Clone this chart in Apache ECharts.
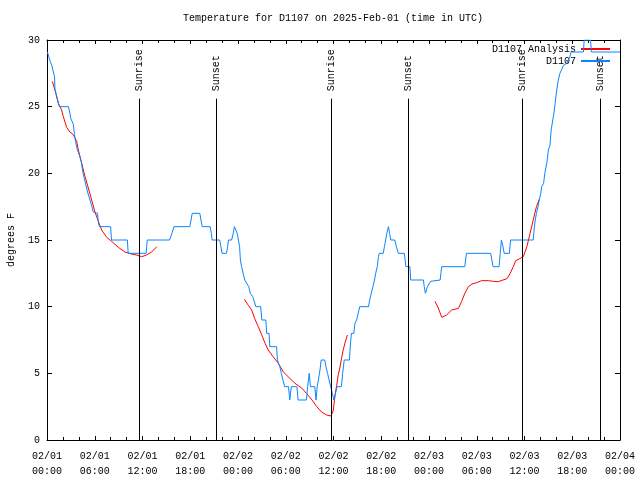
<!DOCTYPE html>
<html>
<head>
<meta charset="utf-8">
<script src="https://cdn.jsdelivr.net/npm/echarts@6/dist/echarts.min.js"></script>
<style>html,body{margin:0;padding:0;background:#fff}#c{width:640px;height:480px}</style>
</head>
<body>
<div id="c"></div>
<script>
// Observations (hours since 2025-02-01 00:00 UTC, degrees F)
const obsHours = [0.05,0.4,0.6,0.8,0.95,1.0,1.2,1.3,1.55,2.7,2.85,3.0,3.3,3.45,3.65,3.8,4.1,4.3,4.5,4.7,4.9,5.1,5.4,5.6,5.8,6.0,6.35,6.45,6.6,8.0,8.1,10.1,10.2,12.45,12.6,15.4,15.7,15.95,17.95,18.1,18.25,19.2,19.35,19.5,20.5,20.65,20.75,21.7,21.85,22.0,22.55,22.7,22.8,23.2,23.4,23.55,23.7,23.9,24.05,24.2,24.3,24.45,24.65,24.85,25.1,25.35,25.55,25.85,26.25,26.85,27.0,27.5,27.6,27.9,28.0,28.85,28.95,29.25,29.45,29.65,29.85,30.35,30.5,30.7,31.4,31.55,32.6,32.75,32.95,33.1,33.65,33.8,33.95,34.1,34.3,34.45,34.9,35.05,35.25,35.45,35.65,35.85,36.05,36.25,36.45,37.0,37.15,37.35,38.0,38.1,38.25,38.55,38.7,38.9,39.1,39.3,40.4,40.55,40.75,40.95,41.15,41.3,41.5,41.65,41.75,42.25,42.4,42.55,42.7,42.9,43.05,43.2,43.7,43.9,44.15,44.9,45.0,45.1,45.6,45.7,47.3,47.4,47.55,47.8,48.2,48.45,49.4,49.5,49.6,52.5,52.6,52.7,55.75,55.9,56.05,56.8,56.95,57.1,57.3,57.45,58.1,58.25,61.1,61.2,61.35,61.5,61.7,61.85,62.05,62.15,62.4,62.55,62.8,63.0,63.2,63.35,63.55,63.7,63.85,64.05,64.25,64.45,64.65,64.9,65.3,65.5,65.7,65.85,67.4,67.5,68.3,68.4,72.0];
const obsTemps = [29.1,28.4,28.1,27.6,27.25,26.3,26.2,25.6,25.0,25.0,24.6,24.1,23.7,22.9,22.2,21.8,21.3,20.9,20.1,19.6,19.1,18.6,18.0,17.6,17.1,17.0,17.0,16.3,16.0,16.0,15.0,15.0,14.0,14.0,15.0,15.0,15.5,16.0,16.0,16.5,17.0,17.0,16.5,16.0,16.0,15.5,15.0,15.0,14.5,14.0,14.0,14.5,15.0,15.0,15.5,16.0,16.0,15.5,15.0,14.5,13.5,13.0,12.5,12.0,11.75,11.5,11.0,10.75,10.0,10.0,9.0,9.0,8.0,8.0,7.0,7.0,6.0,5.5,5.0,4.5,4.0,4.0,3.0,4.0,4.0,3.0,3.0,4.0,5.0,4.0,4.0,3.0,4.0,4.5,5.25,6.0,6.0,5.5,5.0,4.5,4.0,3.5,3.0,3.5,4.0,4.0,5.0,6.0,6.0,7.0,8.0,8.0,8.75,9.0,9.5,10.0,10.0,10.5,11.0,11.5,12.0,12.5,13.0,13.75,14.0,14.0,14.5,15.0,15.5,16.0,15.5,15.0,15.0,14.5,14.0,14.0,13.5,13.0,13.0,12.0,12.0,11.5,11.0,11.5,11.9,12.0,12.0,12.5,13.0,13.0,13.5,14.0,14.0,13.5,13.0,13.0,14.0,15.0,14.5,14.0,14.0,15.0,15.0,15.75,16.5,17.0,17.5,18.0,18.5,19.0,19.25,20.0,20.75,21.75,22.1,23.25,24.0,24.5,25.25,26.25,27.0,27.5,27.75,28.1,28.25,28.5,28.75,29.1,29.1,30.0,30.0,29.1,29.1,29.1];

// Analysis (null = gap)
const anaHours = [0.67,1.0,1.42,1.84,2.05,2.47,2.89,3.3,3.73,3.94,4.36,4.78,5.19,5.61,6.03,6.45,6.87,7.5,8.12,8.96,9.8,10.6,11.27,11.9,12.5,13.15,13.8,
  14.0,
  24.8,25.3,25.72,26.1,26.55,26.97,27.4,27.8,28.4,29.07,29.7,30.3,31.16,32.0,32.6,33.3,33.9,34.5,35.15,35.7,35.98,36.2,36.4,36.6,36.8,37.0,37.2,37.45,37.74,
  38.0,
  48.75,49.17,49.6,49.8,50.2,50.85,51.7,51.9,52.1,52.5,52.95,53.4,54.0,54.6,55.45,56.1,56.7,57.3,57.8,58.2,58.6,58.9,59.4,59.85,60.3,60.7,61.1,61.5,61.86];
const anaTemps = [26.9,26.25,25.25,24.75,24.25,23.45,23.1,22.9,22.4,21.75,20.75,19.75,18.9,18.0,17.1,16.4,15.75,15.2,14.9,14.45,14.1,13.95,13.87,13.75,13.87,14.1,14.5,
  null,
  10.55,10.1,9.75,9.1,8.5,7.9,7.25,6.75,6.25,5.75,5.1,4.75,4.25,3.9,3.5,3.0,2.5,2.1,1.87,1.8,2.25,3.4,4.1,4.9,5.4,6.1,6.7,7.3,7.87,
  null,
  10.4,9.9,9.2,9.1,9.37,9.75,9.87,10.0,10.4,11.0,11.5,11.7,11.8,11.95,11.95,11.9,11.87,12.0,12.1,12.5,13.0,13.45,13.6,13.75,14.5,15.5,16.5,17.5,18.05];

// Sun events
const eventHours = [11.6, 21.27, 35.7, 45.38, 59.75, 69.49];
const eventNames = ['Sunrise','Sunset','Sunrise','Sunset','Sunrise','Sunset'];
const eventLineTop = 25.6;
const eventLabelBase = 26.15;

const xTickDays = ['02/01','02/02','02/03','02/04'];

const FONT = 'Liberation Mono';
const chart = echarts.init(document.getElementById('c'), null, {renderer:'canvas'});

const obsData = obsHours.map((h,i)=>[h, obsTemps[i]]);
const anaData = anaHours.map((h,i)=>[h, anaTemps[i] === null ? '-' : anaTemps[i]]);

function xLabel(v){
  const d = Math.floor(v/24 + 1e-6);
  const hr = Math.round(v - d*24);
  return xTickDays[d] + '\n' + String(hr).padStart(2,'0') + ':00';
}

const axisCommonX = {
  type:'value', min:0, max:72, interval:6,
  axisLine:{show:true, onZero:false, lineStyle:{color:'#000', width:1}},
  axisTick:{show:true, inside:true, length:4, lineStyle:{color:'#000'}},
  minorTick:{show:true, splitNumber:3, length:3, lineStyle:{color:'#000'}},
  splitLine:{show:false}
};
const axisCommonY = {
  type:'value', min:0, max:30, interval:5,
  axisLine:{show:true, onZero:false, lineStyle:{color:'#000', width:1}},
  axisTick:{show:true, inside:true, length:5, lineStyle:{color:'#000'}},
  splitLine:{show:false}
};

chart.setOption({
  animation:false,
  backgroundColor:'#fff',
  title:{
    text:'Temperature for D1107 on 2025-Feb-01 (time in UTC)',
    left:333, top:13, textAlign:'center', padding:[0,0,0,0],
    textStyle:{fontFamily:FONT, fontSize:10, fontWeight:'normal', color:'#000'}
  },
  legend:{
    orient:'vertical', right:30, top:44, align:'right', padding:0,
    itemWidth:29, itemHeight:2, itemGap:2,
    textStyle:{fontFamily:FONT, fontSize:10, color:'#000'},
    data:[{name:'D1107 Analysis', icon:'rect'},{name:'D1107', icon:'rect'}]
  },
  grid:{left:47, right:20, top:40, bottom:40, containLabel:false, outerBoundsMode:'none'},
  xAxis:[
    Object.assign({}, axisCommonX, {position:'bottom',
      axisLabel:{show:true, margin:9, formatter:xLabel, fontFamily:FONT, fontSize:10, lineHeight:15, color:'#000'}}),
    Object.assign({}, axisCommonX, {position:'top', axisLabel:{show:false}})
  ],
  yAxis:[
    Object.assign({}, axisCommonY, {position:'left',
      name:'degrees F', nameLocation:'middle', nameGap:31, nameRotate:90,
      nameTextStyle:{fontFamily:FONT, fontSize:10, color:'#000'},
      axisLabel:{show:true, margin:7, fontFamily:FONT, fontSize:10, color:'#000'}}),
    Object.assign({}, axisCommonY, {position:'right', axisLabel:{show:false}})
  ],
  series:[
    {
      name:'D1107 Analysis', type:'line', data:anaData, showSymbol:false, symbol:'none',
      connectNulls:false, lineStyle:{color:'#ff0000', width:1}, itemStyle:{color:'#ff0000'},
      z:3
    },
    {
      name:'D1107', type:'line', data:obsData, showSymbol:false, symbol:'none',
      lineStyle:{color:'#0a84ff', width:1}, itemStyle:{color:'#0a84ff'}, z:4,
      markLine:{
        silent:true, symbol:['none','none'], animation:false,
        lineStyle:{color:'#000', width:1, type:'solid'},
        label:{show:false},
        data: eventHours.map(h=>[{coord:[h,0]},{coord:[h,eventLineTop]}])
      },
      markPoint:{
        silent:true, symbol:'rect', symbolSize:0, animation:false,
        label:{show:true, formatter:'{b}', rotate:90, position:'inside', align:'left', verticalAlign:'middle',
          fontFamily:FONT, fontSize:10, color:'#000'},
        data: eventHours.map((h,i)=>({name:eventNames[i], coord:[h,eventLabelBase]}))
      }
    }
  ]
});
</script>
</body>
</html>
